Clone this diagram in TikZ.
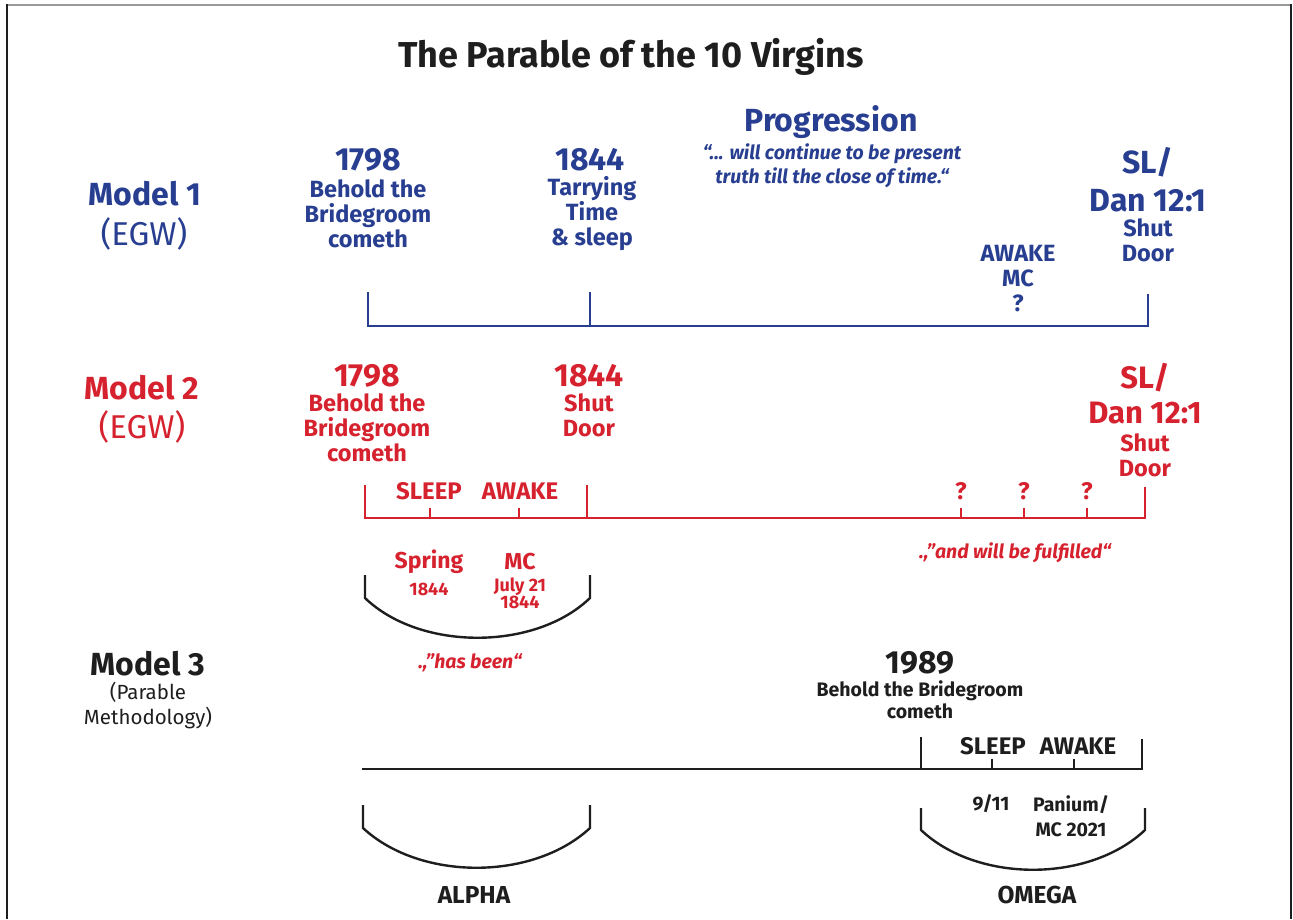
\documentclass[tikz,border=0pt]{standalone}
\usepackage{fontspec}
\setmainfont{Fira Sans}
\usepackage{tikz}
\usetikzlibrary{calc}
\definecolor{egwblue}{RGB}{40,62,145}
\definecolor{egwred}{RGB}{214,34,46}
\definecolor{parblack}{RGB}{30,30,30}
\newcommand{\barwidth}{2.6pt}
\newcommand{\tickwidth}{2pt}
\newcommand{\fbig}{\fontsize{32}{38}\selectfont\bfseries}
\newcommand{\fbigreg}{\fontsize{33}{34}\selectfont}
\newcommand{\fmid}{\fontsize{23.5}{25}\selectfont\bfseries}
\newcommand{\flab}{\fontsize{24}{25}\selectfont\bfseries}
\newcommand{\fsmall}{\fontsize{18}{17}\selectfont\bfseries}
\newcommand{\fquote}{\fontsize{19.5}{24}\selectfont\bfseries\itshape}

\begin{document}
\begin{tikzpicture}[x=1pt,y=-1pt,every node/.style={inner sep=0pt,align=center}]
\useasboundingbox (0,0) rectangle (1293,919);
% frame
\draw[gray!80,line width=2pt] (6,5) -- (1291,5);
\draw[parblack,line width=2pt] (7,4) -- (7,919);
\draw[parblack,line width=2pt] (1291,4) -- (1291,919);
\node[text=parblack,font=\fontsize{36}{40}\selectfont\bfseries] (title) at (631,57) {The Parable of the 10 Virgins};
%model 1
\node[text=egwblue,font=\fbig] (m1) at (145,194) {Model 1};
\node[text=egwblue,font=\fbigreg] (m1egw) at (144,234) {(EGW)};
\node[text=egwblue,font=\fbig] (y1798a) at (368,160) {1798};
\node[text=egwblue,font=\fmid] (t1798a) at (368,214) {Behold the\\Bridegroom\\cometh};
\node[text=egwblue,font=\fbig] (y1844a) at (590,160) {1844};
\node[text=egwblue,font=\fmid] (t1844a) at (592,214) {Tarrying\\Time\\\& sleep};
\node[text=egwblue,font=\fbig] (prog) at (831,122) {Progression};
\node[text=egwblue,font=\fquote] (quotea) at (832,166) {“... will continue to be present\\truth till the close of time.“};
\node[text=egwblue,font=\fbig] (sla) at (1148,180) {SL/\\Dan 12:1};
\node[text=egwblue,font=\fmid] (shuta) at (1148,240) {Shut\\Door};
\node[text=egwblue,font=\fmid] (awakea) at (1018,279) {AWAKE\\MC\\?};
\coordinate (a0) at (368,326);
\coordinate (a0t) at (368,292);
\coordinate (a1) at (590,326);
\coordinate (a1t) at (590,292);
\coordinate (a2) at (1148,326);
\coordinate (a2t) at (1148,294);
\draw[egwblue,line width=\barwidth] (a0t) -- (a0) -- (a2) -- (a2t);
\draw[egwblue,line width=\barwidth] (a1t) -- (a1);
%model 2
\node[text=egwred,font=\fbig] (m2) at (142,388) {Model 2};
\node[text=egwred,font=\fbigreg] (m2egw) at (142,427) {(EGW)};
\node[text=egwred,font=\fbig] (y1798b) at (367,376) {1798};
\node[text=egwred,font=\fmid] (t1798b) at (367,428) {Behold the\\Bridegroom\\cometh};
\node[text=egwred,font=\fbig] (y1844b) at (589,376) {1844};
\node[text=egwred,font=\fmid] (shutb) at (589,415) {Shut\\Door};
\node[text=egwred,font=\fontsize{31}{35}\selectfont\bfseries] (slb) at (1145,394) {SL/\\Dan 12:1};
\node[text=egwred,font=\fmid] (shutc) at (1145,455) {Shut\\Door};
\node[text=egwred,font=\flab] (sleepb) at (429,491) {SLEEP};
\node[text=egwred,font=\flab] (awakeb) at (520,491) {AWAKE};
\node[text=egwred,font=\flab] (qa) at (961,491) {?};
\node[text=egwred,font=\flab] (qb) at (1024,491) {?};
\node[text=egwred,font=\flab] (qc) at (1087,491) {?};
\coordinate (b0) at (365,518);
\coordinate (b0t) at (365,485);
\coordinate (b1) at (587,518);
\coordinate (b1t) at (587,485);
\coordinate (b2) at (1145,518);
\coordinate (b2t) at (1145,487);
\draw[egwred,line width=\barwidth] (b0t) -- (b0) -- (b2) -- (b2t);
\draw[egwred,line width=\barwidth] (b1t) -- (b1);
\foreach \x in {430,519,961,1024,1087}
  \draw[egwred,line width=\tickwidth] (\x,518) -- (\x,508);
\node[text=egwred,font=\fontsize{23}{25}\selectfont\bfseries] (spring) at (429,562) {Spring};
\node[text=egwred,font=\fsmall] (spring44) at (429,589) {1844};
\node[text=egwred,font=\fontsize{23}{25}\selectfont\bfseries] (mcb) at (520,562) {MC};
\node[text=egwred,font=\fsmall] (july) at (520,593) {July 21\\1844};
\node[text=egwred,font=\fquote] (fulfil) at (1015,553) {.,”and will be fulfilled“};
\node[text=egwred,font=\fquote] (hasbeen) at (470,663) {.,”has been“};
\coordinate (c0t) at (365,575);
\coordinate (c0) at (365,598);
\coordinate (c1) at (590,598);
\coordinate (c1t) at (590,575);
\draw[parblack,line width=2.4pt] (c0t) -- (c0) .. controls (420,651) and (535,651) .. (c1) -- (c1t);
%model 3
\node[text=parblack,font=\fbig] (m3) at (148,664) {Model 3};
\node[text=parblack,font=\fontsize{20.5}{25}\selectfont] (m3par) at (148,706) {(Parable\\Methodology)};
\node[text=parblack,font=\fbig] (y1989) at (920,663) {1989};
\node[text=parblack,font=\fontsize{19.5}{22}\selectfont\bfseries] (t1989) at (920,700) {Behold the Bridegroom\\cometh};
\node[text=parblack,font=\flab] (sleepc) at (993,746) {SLEEP};
\node[text=parblack,font=\flab] (awakec) at (1078,746) {AWAKE};
\coordinate (d0) at (362,769);
\coordinate (d1) at (921,769);
\coordinate (d1t) at (921,737);
\coordinate (d2) at (1142,769);
\coordinate (d2t) at (1142,739);
\draw[parblack,line width=\barwidth] (d0) -- (d1) -- (d2) -- (d2t);
\draw[parblack,line width=\barwidth] (d1t) -- (d1);
\foreach \x in {992,1074}
  \draw[parblack,line width=\tickwidth] (\x,769) -- (\x,759);
\node[text=parblack,font=\fontsize{19.5}{25}\selectfont\bfseries] (nineeleven) at (991,804) {9/11};
\node[text=parblack,font=\fontsize{19.5}{25}\selectfont\bfseries] (panium) at (1071,816) {Panium/\\MC 2021};
\coordinate (e0t) at (363,805);
\coordinate (e0) at (363,828);
\coordinate (e1) at (590,828);
\coordinate (e1t) at (590,805);
\draw[parblack,line width=2.4pt] (e0t) -- (e0) .. controls (420,881) and (533,881) .. (e1) -- (e1t);
\node[text=parblack,font=\fontsize{24.5}{25}\selectfont\bfseries] (alpha) at (474,895) {ALPHA};
\coordinate (f0t) at (921,808);
\coordinate (f0) at (921,830);
\coordinate (f1) at (1145,830);
\coordinate (f1t) at (1145,808);
\draw[parblack,line width=2.4pt] (f0t) -- (f0) .. controls (977,883) and (1089,883) .. (f1) -- (f1t);
\node[text=parblack,font=\fontsize{24.5}{25}\selectfont\bfseries] (omega) at (1037,895) {OMEGA};
\end{tikzpicture}
\end{document}
